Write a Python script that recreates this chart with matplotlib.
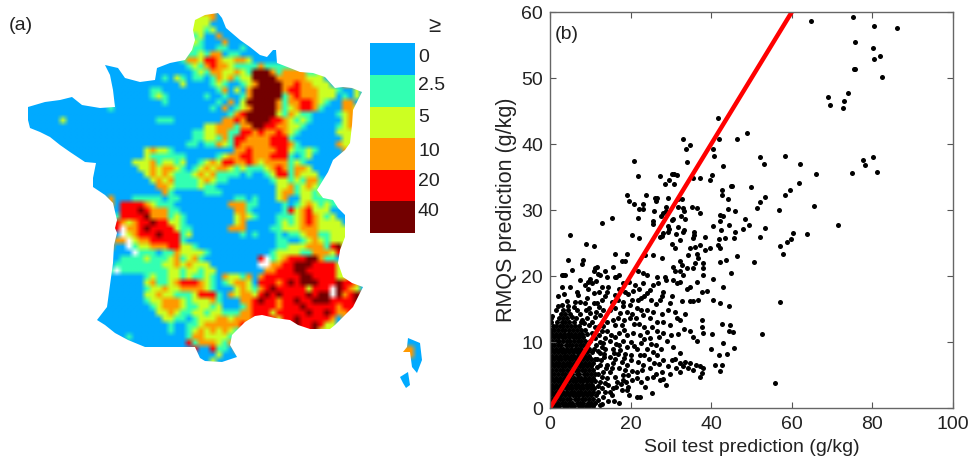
import matplotlib
matplotlib.use("Agg")
import matplotlib.pyplot as plt
from matplotlib.patches import Rectangle, PathPatch
from matplotlib.path import Path
from matplotlib.colors import to_rgb
import numpy as np

plt.rcParams['font.family'] = ['Liberation Sans', 'DejaVu Sans']

# Map classes (lower bound of each class, g/kg)
class_labels = ['0', '2.5', '5', '10', '20', '40']
class_colors = ['#00AAFF', '#33FFB2', '#CCFF22', '#FF9900', '#FF0000', '#730000']

# Coast lines used to trim the class grid
mainland_coast = [
    (218,13),(222,18),(226,28),(240,40),(250,47),(260,55),(267,57),(273,50),(276,50),(277,63),(290,68),(300,72),(313,73),
    (325,77),(335,88),(343,87),(352,88),(362,92),(358,100),(353,110),(352,125),(350,143),(345,150),(333,160),(328,172),
    (317,190),(323,198),(333,200),(338,208),(345,215),(345,237),(340,250),(338,263),(343,277),(352,283),(363,287),(358,297),
    (353,307),(345,315),(335,325),(330,329),(310,329),(298,325),(290,320),(275,318),(262,315),(255,316),(245,322),(240,327),
    (232,335),(230,345),(237,357),(222,362),(205,361),(200,358),(195,347),(187,347),(165,347),(145,347),(128,340),(115,333),
    (105,325),(97,320),(107,307),(110,285),(113,263),(114,245),(117,233),(115,228),(117,220),(113,203),(105,195),(93,187),
    (93,178),(96,163),(85,162),(70,152),(60,145),(50,137),(40,132),(30,128),(28,120),(28,107),(45,102),(60,100),(72,97),
    (82,105),(100,108),(115,107),(113,90),(110,75),(105,65),(118,68),(125,78),(140,82),(155,80),(157,68),(170,63),(185,60),
    (192,50),(195,40),(193,30),(195,20),(205,15),
]
corsica_north = [(408,338),(420,343),(422,360),(417,373),(412,367),(410,352),(403,352),(407,347)]
corsica_south = [(400,377),(408,372),(410,385),(406,388),(403,383)]

# France as a coarse grid of classes: (row, first col, last col) is blue land
land_spans = [
    (0,30,32),(1,29,33),(2,28,33),(3,28,34),(4,28,37),(5,28,38),(6,28,39),(6,41,41),(7,27,42),(8,27,42),
    (9,14,15),(9,22,44),(10,14,16),(10,22,47),(11,14,50),(12,14,53),(13,15,56),(14,6,8),(14,15,56),
    (15,2,9),(15,14,56),(16,1,55),(17,1,54),(18,1,54),(19,1,54),(20,3,54),(21,5,53),(22,6,53),(23,7,52),
    (24,7,51),(25,9,51),(26,11,50),(27,11,50),(28,12,50),(29,12,49),(30,13,48),(31,14,52),(32,15,53),
    (33,15,53),(34,15,52),(35,15,52),(36,15,53),(37,15,53),(38,15,53),(39,15,52),(40,15,52),(41,15,53),
    (42,15,52),(43,15,52),(44,14,52),(45,14,56),(46,14,56),(47,14,56),(48,13,55),(49,13,54),(50,13,53),
    (51,12,38),(51,43,43),(51,45,52),(52,13,36),(52,46,52),(53,14,35),(53,48,50),(54,15,34),(55,18,34),
    (56,20,27),(56,29,34),(57,29,34),(58,30,33),
    # Corsica
    (55,64,65),(56,63,65),(57,65,66),(58,65,66),(59,65,66),(60,63,65),(61,63,64),(62,64,64),
]

# Higher classes on top of the land: (row, first col, classes), '.' is a hole
class_patches = [
    (0,30,"33"),(1,29,"223"),(2,28,"222"),(3,28,"2212"),(4,28,"12"),(4,32,"3"),(5,28,"21"),(5,33,"3"),
    (6,28,"11"),(6,32,"11"),(6,36,"1"),(7,27,"112133"),(7,34,"11"),(8,27,"33244322332"),
    (9,27,"121343321111311111"),(10,28,"121332232155531"),(10,43,"33331"),
    (11,23,"1"),(11,25,"21"),(11,28,"11"),(11,31,"1323122555533333222"),
    (12,26,"2"),(12,31,"121"),(12,36,"1"),(12,37,"23"),(12,39,"5555"),(12,43,"33"),(12,45,"4"),(12,46,"33"),(12,48,"222"),(12,53,"3"),
    (13,21,"11"),(13,32,"13"),(13,35,"2"),(13,37,"3"),(13,38,"55555"),(13,43,"3"),(13,44,"44"),(13,46,"333"),(13,49,"222"),(13,52,"1"),(13,55,"2"),
    (14,21,"121"),(14,30,"1"),(14,33,"1"),(14,36,"1"),(14,37,"3"),(14,38,"55555"),(14,43,"1"),(14,44,"3"),(14,45,"4"),(14,46,"333"),(14,49,"222"),(14,53,"1"),(14,55,"2"),
    (15,23,"1"),(15,32,"1"),(15,34,"3"),(15,36,"2"),(15,37,"55555"),(15,42,"3"),(15,43,"1"),(15,44,"33"),(15,46,"44"),(15,48,"3"),(15,49,"21"),(15,53,"33"),
    (16,14,"1"),(16,31,"1"),(16,33,"3"),(16,35,"123"),(16,38,"5555"),(16,42,"3"),(16,43,"12"),(16,45,"3"),(16,46,"44"),(16,48,"31"),(16,53,"332"),
    (17,34,"134"),(17,37,"55555"),(17,42,"21"),(17,44,"321"),(17,47,"1"),(17,52,"123"),
    (18,6,"2"),(18,22,"111"),(18,33,"334355554432121"),(18,53,"23"),
    (19,30,"22333"),(19,35,"13"),(19,37,"3"),(19,38,"55"),(19,40,"44"),(19,42,"33"),(19,44,"22"),(19,46,"1"),(19,52,"123"),
    (20,28,"112233114434334321"),(20,52,"222"),(21,28,"11221314433334441"),(21,53,"2"),
    (22,27,"1101132143333344431"),(22,52,"32"),(23,20,"2322"),(23,24,"1"),(23,35,"33433334421121"),
    (24,20,"211111"),(24,26,"1"),(24,32,"1"),(24,33,"233443334441012"),
    (25,18,"222312212"),(25,29,"123244334323333121"),(26,19,"22323321"),(26,28,"12323321211123431332"),
    (27,20,"2323211123231111"),(27,37,"1"),(27,40,"12"),(27,42,"44"),(27,44,"1"),(27,45,"3"),(27,46,"222"),
    (28,21,"2323111123211"),(28,41,"1"),(28,42,"221"),(28,45,"2"),(28,46,"1"),(28,47,"33"),(28,49,"1"),
    (29,22,"3321111211"),(29,42,"22"),(29,44,"3"),(29,45,"1"),(29,46,"2"),(29,47,"3"),(29,48,"2"),(29,49,"1"),
    (30,23,"31"),(30,30,"111"),(30,42,"233"),(30,45,"1"),(30,46,"221"),
    (31,14,"3"),(31,18,"11111"),(31,24,"11"),(31,35,"11"),(31,38,"1"),(31,42,"23"),(31,46,"22"),(31,48,"11111"),
    (32,16,"444432111"),(32,34,"333"),(32,37,"11"),(32,43,"1"),(32,45,"1"),(32,46,"232"),(32,49,"1211"),
    (33,16,"4445433311"),(33,35,"33"),(33,37,"1"),(33,43,"1"),(33,44,"4"),(33,45,"2"),(33,46,"3"),(33,47,"4"),(33,48,"222"),
    (34,15,"144445333121"),(34,35,"232"),(34,38,"1"),(34,42,"111"),(34,45,"2"),(34,46,"3"),(34,47,"4"),(34,48,"3"),(34,49,"212"),
    (35,15,"432344544221"),(35,35,"23"),(35,42,"1212"),(35,46,"34"),(35,48,"3"),(35,49,"2222"),
    (36,15,"4.33454444211"),(36,34,"333"),(36,41,"11222"),(36,46,"333"),(36,49,"22222"),
    (37,15,"0.23444544412"),(37,36,"1"),(37,38,"1"),(37,42,"1"),(37,44,"11"),(37,46,"2"),(37,47,"33"),(37,49,"11"),(37,51,"222"),
    (38,15,"33.233444441"),(38,42,"11"),(38,46,"1"),(38,47,"2"),(38,48,"3"),(38,49,"2"),(38,50,"1"),(38,51,"222"),
    (39,17,".12233344221"),(39,42,"1122"),(39,46,"2"),(39,47,"333"),(39,50,"1"),(39,51,"45"),
    (40,18,".111011322221"),(40,41,"1222"),(40,45,"2"),(40,46,"11"),(40,48,"333"),(40,51,"24"),
    (41,16,"11112111231231"),(41,39,"4.12344455311"),
    (42,15,"1111111122323222"),(42,39,"..33"),(42,43,"44"),(42,45,"555"),(42,48,"4444"),(42,52,"2"),
    (43,15,".1111111122122122"),(43,40,"33"),(43,42,"444"),(43,45,"55"),(43,47,"44444"),(43,52,"2"),
    (44,20,"121122121121"),(44,33,"32213034444445544442"),
    (45,20,"231123444321"),(45,33,"12332044434545554445443"),
    (46,20,"122322333321"),(46,35,"2321345444442444.5432"),
    (47,20,"2232211124441"),(47,34,"32332454544445455.53454"),
    (48,20,"1223332122231"),(48,36,"33454434454455544445"),
    (49,21,"123332112212"),(49,36,"1344443444544444344"),
    (50,22,"22321122122111334442444445445433"),
    (51,23,"2211"),(51,28,"12223323334"),(51,43,"4"),(51,45,"5444443"),
    (52,24,"1"),(52,27,"1123333334"),(52,46,"445422"),
    (53,24,"1"),(53,27,"123232321"),(53,48,"522"),
    (54,17,"1"),(54,27,"13322221"),(55,27,"41333213"),(56,31,"411"),(57,32,"2"),(58,31,"2"),
    (56,63,"33"),
]

# Scatter, soil test prediction vs RMQS prediction (g/kg)
upper_points = [
    (64.8,58.7),(75.3,59.2),(80.4,57.9),(86.1,57.6),(75.7,55.4),(80.2,54.6),(80.3,52.9),(81.9,53.3),(75.4,51.3),(75.8,51.3),
    (82.3,50.1),(68.9,47.1),(69.5,45.9),(73.0,46.5),(73.9,47.7),(72.8,45.4),(41.8,44.0),(42.0,40.8),(46.3,40.8),(48.8,41.7),
    (33.0,40.7),(34.7,39.9),(33.7,39.2),(40.4,39.2),(40.7,38.2),(52.1,38.0),(58.2,38.2),(34.0,37.2),(42.9,36.7),(53.2,37.0),
    (62.0,37.0),(80.1,38.1),(77.6,37.6),(78.1,36.8),(74.9,35.6),(81.1,35.8),(65.9,35.5),(20.8,37.4),(21.9,35.1),(27.2,35.1),
    (30.2,35.4),(30.8,35.4),(31.4,35.3),(29.5,34.5),(28.6,34.0),(30.7,34.0),(35.6,34.9),(37.1,34.9),(40.3,35.3),(39.7,34.5),
    (45.1,33.7),(44.8,33.6),(49.9,33.5),(61.9,34.1),(59.5,33.1),(58.3,32.3),(42.8,33.0),(42.8,32.3),(44.1,31.7),(53.3,32.0),
    (52.2,31.2),(51.4,30.3),(56.7,30.0),(65.5,30.6),(19.1,32.3),(19.7,31.3),(20.8,30.9),(23.2,30.9),(23.7,32.2),(22.1,30.2),
    (23.2,30.1),(25.7,29.9),(26.1,31.8),(26.5,31.8),(26.3,31.3),(29.4,31.8),(31.7,31.7),(32.7,31.6),(31.8,30.5),(32.9,30.3),
    (33.3,29.9),(28.9,30.4),(28.7,29.9),(28.1,29.6),(27.6,29.1),(35.3,30.5),(36.6,30.3),(37.1,29.5),(44.2,30.2),(45.9,29.9),
    (42.2,29.3),(42.9,29.1),(42.3,28.4),(32.4,29.1),(33.5,28.6),(30.4,28.7),(30.2,28.5),(21.9,28.8),(15.4,28.8),(12.9,28.1),
    (25.6,28.3),(25.5,27.9),(48.5,28.7),(49.3,27.8),(44.4,27.7),(40.5,27.6),(71.4,27.7),(53.3,27.3),(48.0,27.1),(45.9,26.7),
    (42.5,26.9),(29.4,27.6),(31.7,27.5),(29.6,27.1),(29.4,26.7),(33.3,27.0),(33.1,26.6),(35.8,26.7),(35.7,26.2),(5.0,26.2),
    (20.3,26.2),(22.0,25.8),(28.1,26.5),(27.9,26.1),(27.3,25.9),(31.3,26.4),(38.5,25.9),(42.0,25.6),(43.4,25.7),(45.7,25.8),
    (52.0,25.9),(59.8,25.6),(63.7,26.4),(60.4,26.5),(35.6,25.7),
]
middle_points = [
    (8.9,24.8),(11.0,24.6),(30.2,24.9),(32.3,25.5),(37.2,24.7),(36.0,24.4),(34.7,24.2),(31.0,24.3),(34.3,23.2),(36.4,23.4),
    (38.5,23.9),(39.7,24.2),(41.8,24.7),(42.2,24.2),(57.1,24.6),(57.9,23.4),(58.7,25.2),(46.5,23.0),(50.5,22.1),(43.7,22.4),
    (42.3,22.1),(36.8,22.7),(38.0,21.9),(36.0,21.9),(32.3,22.2),(30.6,21.4),(31.0,20.7),(32.7,21.7),(33.9,21.2),(35.6,21.2),
    (32.3,20.7),(33.1,20.2),(38.0,21.2),(44.8,20.4),(27.7,22.7),(23.6,23.2),(25.6,23.2),(16.1,23.3),(19.0,23.4),(17.8,22.2),
    (18.6,22.2),(8.3,22.4),(7.9,21.8),(4.5,22.5),(5.4,20.9),(11.6,21.4),(11.2,21.2),(10.8,20.7),(12.0,20.3),(13.6,20.7),
    (15.7,21.4),(17.0,20.2),(16.1,19.9),(21.9,20.8),(23.2,20.4),(24.0,20.2),(3.3,20.2),(2.9,20.1),(3.7,20.2),(7.4,19.4),
    (9.9,19.6),(9.5,19.1),(12.4,20.2),(14.1,19.9),(16.5,19.9),(26.5,19.9),(28.5,19.9),(26.9,18.9),(28.9,19.4),(30.6,19.4),
    (32.3,19.1),(31.4,18.9),(34.7,18.4),(36.4,19.1),(38.0,20.2),(40.5,19.6),(43.0,18.4),(37.6,17.6),(38.9,17.7),(33.9,18.1),
    (36.8,16.4),(35.6,16.2),(34.7,16.2),(32.7,16.2),(30.2,16.9),(28.1,17.6),(27.7,16.9),(27.3,16.4),(25.6,18.6),(24.8,17.9),
    (24.0,17.4),(22.7,16.6),(21.9,16.4),(20.3,16.4),(18.6,17.6),(17.0,18.1),(16.1,17.1),(14.5,18.4),(14.1,17.6),(13.6,16.9),
    (12.8,16.4),(11.6,15.9),(10.8,15.9),(8.7,18.6),(9.5,18.1),(2.9,18.4),(5.0,18.4),(6.6,17.6),(7.0,17.1),(2.1,16.9),
]
lower_points = [
    (4.5,15.4),(6.6,14.8),(5.4,13.8),(7.4,14.2),(8.7,15.9),(13.2,14.8),(14.9,14.8),(12.4,14.1),(14.1,13.1),(16.1,15.1),
    (18.2,15.4),(19.9,15.6),(21.5,15.1),(22.7,14.8),(24.0,14.8),(25.6,14.6),(23.2,14.1),(24.8,13.6),(26.5,13.1),(28.1,13.1),
    (29.8,12.6),(31.4,13.6),(32.3,13.3),(33.5,14.3),(31.0,14.5),(37.6,13.3),(37.6,12.3),(42.6,12.8),(44.7,12.6),(44.3,11.6),
    (45.5,11.5),(42.2,15.9),(44.3,15.5),(40.5,16.4),(57.1,16.0),(52.5,11.2),(34.7,11.6),(35.6,10.8),(36.4,10.1),(38.0,11.3),
    (40.1,11.2),(43.0,9.9),(39.9,8.9),(45.7,9.1),(42.0,8.1),(43.8,8.2),(40.9,6.5),(42.8,6.5),(42.2,5.6),(37.2,6.3),
    (38.0,6.1),(36.2,6.5),(37.6,5.3),(37.1,4.7),(55.8,3.8),(34.7,6.8),(33.5,7.0),(32.3,8.3),(31.0,7.4),(30.2,7.3),
    (29.4,6.3),(32.3,6.8),(32.3,5.5),(33.1,6.3),(28.9,3.5),(27.7,5.5),(28.0,4.4),(27.3,4.2),(25.6,4.7),(24.0,4.5),
    (25.2,2.2),(22.7,4.0),(21.5,4.5),(19.4,3.2),(19.2,2.7),(17.8,2.7),(17.0,0.7),(21.5,1.6),(22.3,1.6),(15.3,2.0),
    (14.5,1.0),(14.9,2.5),(26.5,11.6),(28.1,11.3),(24.8,10.6),(22.3,11.1),(20.7,11.3),(19.0,11.1),(17.8,12.6),(19.9,13.6),
    (18.2,10.1),(21.5,9.0),(24.0,9.0),(25.6,8.5),(26.5,8.0),(28.1,7.3),(21.9,7.0),(23.2,6.5),(24.8,6.0),(21.5,5.5),
    (19.0,6.5),(17.8,7.0),(16.1,7.5),(17.0,6.0),(18.2,5.0),(19.4,5.0),(17.4,8.8),(15.7,9.0),(14.9,10.1),(13.6,10.6),
    (16.1,12.6),(14.1,11.6),(13.6,9.0),(14.9,7.8),(14.1,6.5),(14.9,5.5),(16.1,4.7),(14.1,4.5),(15.7,3.0),(14.5,3.5),
    (13.6,2.5),(12.8,3.0),(12.4,4.0),(13.2,5.5),(12.4,6.5),(11.6,7.5),(12.4,8.3),
]
# Second pass over the busier band right of the dense part
busy_points = [
    (11.8,1.2),(12.3,0.4),(11.9,2.4),(13.2,1.6),(13.0,0.6),(12.0,3.4),(13.6,3.8),(11.9,5.2),(12.9,4.7),(13.8,6.0),
    (11.7,6.2),(12.6,7.3),(13.4,7.7),(11.8,8.7),(12.9,9.2),(13.5,8.2),(11.4,9.6),(12.3,10.0),(13.2,9.9),(11.1,10.6),
    (12.1,11.0),(13.0,11.6),(10.4,11.4),(11.2,12.3),(12.2,12.5),(13.1,12.4),(9.6,12.6),(8.4,12.9),(10.3,13.1),(9.1,13.7),
    (11.1,13.8),(8.0,13.4),(10.0,14.4),(11.4,14.6),(9.0,14.9),(12.2,15.3),(0.5,14.0),(1.4,14.9),(2.0,15.5),(3.0,15.6),
    (15.4,6.1),(15.9,8.4),(16.4,9.7),(17.1,9.6),(15.2,11.1),(16.2,10.8),(17.2,11.3),(18.3,11.8),(15.6,13.3),(16.9,13.6),
    (18.4,13.4),(19.1,14.5),(17.4,14.4),(20.4,14.2),(20.9,12.7),(22.2,12.8),(21.4,13.7),(23.3,12.3),(24.1,11.5),(25.2,12.2),
    (27.0,10.7),(29.0,10.2),(30.1,11.1),(20.0,10.0),(20.9,9.4),(19.0,9.2),(22.6,9.9),(23.4,10.4),(25.0,9.7),(26.4,9.6),
    (27.6,9.0),(18.6,8.2),(20.0,8.0),(22.4,8.0),(23.4,8.1),(24.6,7.4),(25.9,6.8),(27.0,6.6),(18.3,7.6),(20.1,7.2),
    (22.8,5.8),(20.3,5.6),(18.7,5.8),(16.7,4.0),(17.5,3.7),(18.2,4.2),(16.4,3.2),(20.4,4.2),(23.6,3.2),(19.6,2.0),
    (16.0,1.1),(15.6,6.8),(16.8,8.2),(18.9,3.9),(26.2,5.2),(29.9,5.2),(31.2,6.0),(34.3,6.0),(35.5,5.8),(30.6,9.2),
    (31.8,11.2),(33.2,12.0),(27.7,14.2),(29.2,14.9),(29.9,15.9),(26.4,15.8),(25.1,16.3),(23.3,17.0),(21.0,18.6),(19.7,19.1),
    (18.0,19.0),(19.4,17.2),(20.7,17.7),(22.1,18.0),(23.0,19.0),(15.3,16.0),(16.9,16.4),(18.2,16.1),(3.4,17.2),(4.1,16.2),
    (7.4,16.1),(9.3,16.6),(6.2,16.0),(12.2,17.6),(12.9,18.4),(11.0,17.4),(10.3,18.9),(11.4,19.2),(5.9,15.3),(9.8,15.2),
]
# Dense part near the origin, one list of soil test values per RMQS value
dense_rows = {
    0.3: [0.7,1.6,2.3,3.4,4.1,5.2,6.0,7.1,7.9,8.9,9.7,10.6],
    0.8: [0.2,1.1,2.1,2.9,3.8,4.8,5.5,6.6,7.4,8.3,9.4,10.2,11.2],
    1.3: [0.6,1.4,2.4,3.3,4.3,5.0,6.1,6.9,7.9,8.7,9.7,10.6],
    1.9: [0.1,1.0,1.9,2.8,3.7,4.6,5.6,6.4,7.3,8.2,9.2,10.1,11.3],
    2.4: [0.5,1.5,2.3,3.2,4.2,5.1,6.0,6.9,7.8,8.8,9.6,10.7],
    3.0: [0.2,1.1,2.0,2.9,3.9,4.7,5.5,6.5,7.4,8.3,9.1,10.2,11.0],
    3.5: [0.6,1.6,2.5,3.3,4.2,5.2,6.1,7.0,8.0,8.9,9.7,10.5],
    4.1: [0.1,1.0,1.9,2.8,3.8,4.6,5.6,6.4,7.5,8.2,9.3,10.1,11.2],
    4.6: [0.5,1.4,2.4,3.4,4.3,5.0,6.0,6.9,7.8,8.7,9.8,10.6],
    5.2: [0.2,1.1,2.1,3.0,3.7,4.7,5.5,6.6,7.3,8.4,9.1,10.2,11.1],
    5.7: [0.6,1.5,2.4,3.3,4.2,5.1,6.1,7.0,7.9,8.8,9.6,10.7],
    6.3: [0.1,1.0,2.0,2.9,3.8,4.8,5.6,6.5,7.4,8.3,9.2,10.1],
    6.8: [0.5,1.6,2.3,3.2,4.3,5.0,5.9,6.9,7.8,8.8,9.7,10.6],
    7.4: [0.2,1.1,1.9,2.8,3.7,4.6,5.5,6.4,7.3,8.2,9.1,10.2,11.1],
    7.9: [0.6,1.5,2.5,3.4,4.2,5.2,6.0,7.0,7.9,8.7,9.6],
    8.5: [0.1,1.0,2.1,2.9,3.8,4.7,5.6,6.6,7.4,8.3,9.3,10.4],
    9.0: [0.5,1.4,2.4,3.3,4.3,5.1,6.1,6.9,7.8,8.9,9.8,10.8],
    9.6: [0.2,1.1,2.0,2.8,3.9,4.6,5.5,6.5,7.5,8.2,9.1],
    10.1: [0.6,1.6,2.3,3.2,4.2,5.0,6.0,7.0,7.7,8.8,9.9],
    10.7: [0.1,1.0,1.9,3.0,3.7,4.8,5.7,6.4,7.3,8.3],
    11.2: [0.5,1.5,2.5,3.4,4.4,5.2,6.2,7.1,8.0,9.2],
    11.8: [0.2,1.1,2.1,2.9,3.8,4.6,5.6,6.7,7.6,8.6],
    12.4: [0.7,1.4,2.6,3.3,4.2,5.3,6.3,7.2],
    13.0: [0.3,1.8,2.9,3.7,4.7,5.9,7.7],
    13.6: [0.2,2.3,3.3,4.3,6.4],
    14.2: [2.8,3.8,5.0],
    14.8: [3.2,4.4],
}

# One to one line
line_ends = [0, 60]

xticks = [0, 20, 40, 60, 80, 100]
yticks = [0, 10, 20, 30, 40, 50, 60]

fig = plt.figure(figsize=(9.75, 4.65), dpi=100)
W, H = 975.0, 465.0

# (a) map, axes in picture pixels
ax_map = fig.add_axes([0, 0, 1, 1])
ax_map.axis('off')

n_rows, n_cols = 63, 67
grid = -np.ones((n_rows, n_cols), dtype=int)
for row, c0, c1 in land_spans:
    grid[row, c0:c1 + 1] = 0
holes = []
for row, col, classes in class_patches:
    for k, ch in enumerate(classes):
        if ch == '.':
            holes.append((row, col + k))
        else:
            grid[row, col + k] = int(ch)

# grow the grid past the coast, the coast line does the trimming
for _ in range(3):
    grown = grid.copy()
    for r in range(n_rows):
        for c in range(n_cols):
            if grid[r, c] < 0:
                near = grid[max(r - 1, 0):r + 2, max(c - 1, 0):c + 2]
                near = near[near >= 0]
                if len(near):
                    grown[r, c] = near[0]
    grid = grown
for r, c in holes:
    grid[r, c] = -1

rgb = np.ones((n_rows, n_cols, 3))
for i, c in enumerate(class_colors):
    rgb[grid == i] = to_rgb(c)
im = ax_map.imshow(rgb, extent=(24, 24 + 6 * n_cols, 10 + 6 * n_rows, 10), interpolation='bilinear', aspect='auto')
ax_map.set_xlim(0, W)
ax_map.set_ylim(H, 0)

verts, codes = [], []
for ring in (mainland_coast, corsica_north, corsica_south):
    verts += ring + [ring[0]]
    codes += [Path.MOVETO] + [Path.LINETO] * (len(ring) - 1) + [Path.CLOSEPOLY]
coast = PathPatch(Path(verts, codes), transform=ax_map.transData, fc='none', ec='none')
ax_map.add_patch(coast)
im.set_clip_path(coast)

ax_map.text(9, 26, '(a)', fontsize=14, va='center', color='#222222')
ax_map.text(434, 27, '\u2265', fontsize=16, ha='center', va='center', color='#222222')

# class legend
label_y = [57, 86, 117, 151, 181, 211]
band = (233 - 43.5) / len(class_colors)
for i, c in enumerate(class_colors):
    ax_map.add_patch(Rectangle((370, 43.5 + i * band), 45, band, fc=c, ec='none'))
    ax_map.text(418, label_y[i], class_labels[i], fontsize=14, va='center', color='#222222')

# (b) scatter
ax = fig.add_axes([550 / W, 1 - 408 / H, 403 / W, 396 / H])
all_points = upper_points + middle_points + lower_points + busy_points
soil = [p[0] for p in all_points]
rmqs = [p[1] for p in all_points]
for y, xs in dense_rows.items():
    soil += xs
    rmqs += [y] * len(xs)
ax.scatter(soil, rmqs, s=13, c='black', linewidths=0, clip_on=True)
ax.plot(line_ends, line_ends, color='#FF0000', linewidth=3.2, solid_capstyle='butt')
ax.set_xlim(0, 100)
ax.set_ylim(0, 60)
ax.set_xticks(xticks)
ax.set_yticks(yticks)
ax.tick_params(direction='in', top=True, right=True, length=4, width=0.8, color='#555555',
               labelsize=14, labelcolor='#222222')
ax.tick_params(axis='x', pad=6)
ax.tick_params(axis='y', pad=5)
for s in ax.spines.values():
    s.set_color('#666666')
    s.set_linewidth(1.0)
ax.set_xlabel('Soil test prediction (g/kg)', fontsize=14, color='#222222', labelpad=4)
ax.set_ylabel('RMQS prediction (g/kg)', fontsize=15.5, color='#222222', labelpad=3)
ax.text(0.012, 0.965, '(b)', transform=ax.transAxes, fontsize=14, va='top', color='#222222')

fig.savefig('out.png', dpi=100)
